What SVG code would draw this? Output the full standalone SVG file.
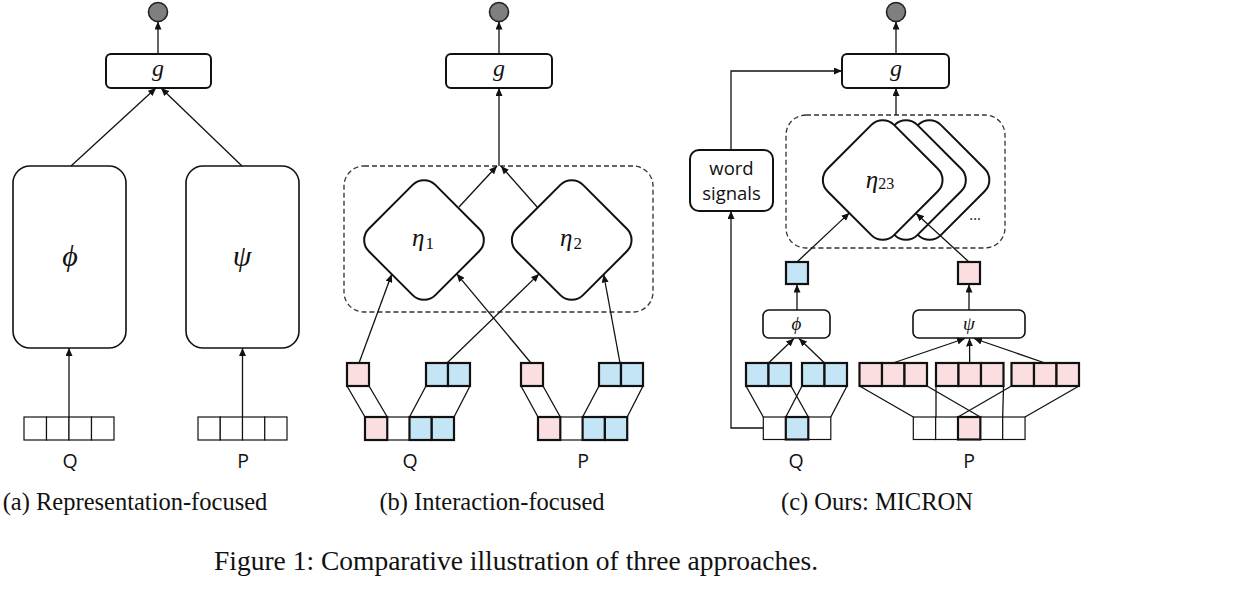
<svg xmlns="http://www.w3.org/2000/svg" width="1237" height="602" viewBox="0 0 1237 602">
<style>
.box{fill:#fff;stroke:#111;stroke-width:2}
.box15{fill:#fff;stroke:#111;stroke-width:1.6}
.cell{fill:#fff;stroke:#111;stroke-width:1.2}
.pink{fill:#fbdfe0;stroke:#111;stroke-width:2.2}
.blue{fill:#c4e5f5;stroke:#111;stroke-width:2.2}
.out{fill:#7f7f7f;stroke:#222;stroke-width:1.6}
.edge{fill:none;stroke:#111;stroke-width:1.3}
.arr{marker-end:url(#ah)}
.dash{fill:none;stroke:#333;stroke-width:1.3;stroke-dasharray:5 3}
.math{font-family:"Liberation Serif","DejaVu Serif",serif;font-style:italic;fill:#111}
.up{font-family:"Liberation Serif","DejaVu Serif",serif;font-style:normal}
.sans{font-family:"Open Sans","Noto Sans",sans-serif;fill:#111}
.lbl{font-size:19.5px}
.cap{font-family:"Liberation Serif","Times New Roman",serif;fill:#111}
</style>
<defs>
<marker id="ah" markerUnits="userSpaceOnUse" markerWidth="8" markerHeight="7" refX="8" refY="3.5" orient="auto">
<path d="M0,0 L8,3.5 L0,7 z" fill="#111"/>
</marker>
</defs>

<!-- ===== Panel (a) ===== -->
<g id="a-out"><circle class="out" cx="158" cy="12" r="9.5"/></g>
<g id="a-g"><rect class="box" x="106" y="54" width="105" height="34" rx="5"/><text class="math" x="158" y="76" font-size="24" text-anchor="middle">g</text></g>
<g id="a-phi"><rect class="box15" x="13" y="166" width="113" height="182" rx="17"/><text class="math" x="70" y="266" font-size="30" text-anchor="middle">ϕ</text></g>
<g id="a-psi"><rect class="box15" x="186" y="166" width="113" height="182" rx="17"/><text class="math" x="242" y="266" font-size="30" text-anchor="middle">ψ</text></g>
<g id="a-Q">
<rect class="cell" x="24" y="417" width="22.5" height="23"/><rect class="cell" x="46.5" y="417" width="22.5" height="23"/><rect class="cell" x="69" y="417" width="22.5" height="23"/><rect class="cell" x="91.5" y="417" width="22.5" height="23"/>
<text class="sans lbl" x="70" y="468" text-anchor="middle">Q</text></g>
<g id="a-P">
<rect class="cell" x="198" y="417" width="22.25" height="23"/><rect class="cell" x="220.25" y="417" width="22.25" height="23"/><rect class="cell" x="242.5" y="417" width="22.25" height="23"/><rect class="cell" x="264.75" y="417" width="22.25" height="23"/>
<text class="sans lbl" x="243" y="468" text-anchor="middle">P</text></g>

<!-- ===== Panel (b) ===== -->
<g id="b-out"><circle class="out" cx="499" cy="12" r="9.5"/></g>
<g id="b-g"><rect class="box" x="446" y="54" width="106" height="34" rx="5"/><text class="math" x="499" y="76" font-size="24" text-anchor="middle">g</text></g>
<g id="b-group"><rect class="dash" x="344" y="166" width="309" height="146" rx="20"/></g>
<g id="b-eta1"><rect class="box" x="-47" y="-47" width="94" height="94" rx="16" transform="translate(424,240) rotate(45)"/><text class="math" x="423" y="246" font-size="25" text-anchor="middle">η<tspan class="up" font-size="17" dx="1" dy="3">1</tspan></text></g>
<g id="b-eta2"><rect class="box" x="-47" y="-47" width="94" height="94" rx="16" transform="translate(571.7,240) rotate(45)"/><text class="math" x="571" y="246" font-size="25" text-anchor="middle">η<tspan class="up" font-size="17" dx="1" dy="3">2</tspan></text></g>
<g id="b-q-top"><rect class="pink" x="347" y="363" width="22" height="23"/><rect class="blue" x="426" y="363" width="22" height="23"/><rect class="blue" x="448" y="363" width="22" height="23"/></g>
<g id="b-q-seq">
<rect class="cell" x="387.25" y="417" width="22.25" height="23"/>
<rect class="pink" x="365" y="417" width="22.25" height="23"/><rect class="blue" x="409.5" y="417" width="22.25" height="23"/><rect class="blue" x="431.75" y="417" width="22.25" height="23"/>
<text class="sans lbl" x="410" y="468" text-anchor="middle">Q</text></g>
<g id="b-p-top"><rect class="pink" x="521" y="363" width="22" height="23"/><rect class="blue" x="599" y="363" width="22" height="23"/><rect class="blue" x="621" y="363" width="22" height="23"/></g>
<g id="b-p-seq">
<rect class="cell" x="560.3" y="417" width="22.3" height="23"/>
<rect class="pink" x="538" y="417" width="22.3" height="23"/><rect class="blue" x="582.6" y="417" width="22.3" height="23"/><rect class="blue" x="604.9" y="417" width="22.3" height="23"/>
<text class="sans lbl" x="583" y="468" text-anchor="middle">P</text></g>

<!-- ===== Panel (c) ===== -->
<g id="c-out"><circle class="out" cx="896" cy="12" r="9.5"/></g>
<g id="c-g"><rect class="box" x="842" y="54" width="107" height="34" rx="5"/><text class="math" x="896" y="76" font-size="24" text-anchor="middle">g</text></g>
<g id="c-word"><rect class="box" x="690" y="150" width="83" height="61" rx="9"/>
<text class="sans" x="731.5" y="175" font-size="18.5" text-anchor="middle">word</text>
<text class="sans" x="731.5" y="200" font-size="18.5" text-anchor="middle">signals</text></g>
<g id="c-group"><rect class="dash" x="786" y="115" width="219" height="133" rx="20"/><text class="sans" x="975" y="220" font-size="15" text-anchor="middle">…</text></g>
<g id="c-eta">
<rect class="box" x="-47" y="-47" width="94" height="94" rx="16" transform="translate(929.5,180) rotate(45)"/>
<rect class="box" x="-47" y="-47" width="94" height="94" rx="16" transform="translate(906,180) rotate(45)"/>
<rect class="box" x="-47" y="-47" width="94" height="94" rx="16" transform="translate(882.7,180) rotate(45)"/>
<text class="math" x="880" y="188" font-size="25" text-anchor="middle">η<tspan class="up" font-size="16" dy="1">23</tspan></text></g>
<g id="c-qvec"><rect class="blue" x="786" y="262" width="22" height="22"/></g>
<g id="c-pvec"><rect class="pink" x="958" y="262" width="22" height="22"/></g>
<g id="c-phi"><rect class="box15" x="763" y="310" width="67" height="28" rx="6"/><text class="math" x="796.5" y="330" font-size="19" text-anchor="middle">ϕ</text></g>
<g id="c-psi"><rect class="box15" x="913" y="310" width="112" height="28" rx="6"/><text class="math" x="969" y="330" font-size="19" text-anchor="middle">ψ</text></g>
<g id="c-q-pairs">
<rect class="blue" x="746" y="363" width="22.5" height="23"/><rect class="blue" x="768.5" y="363" width="22.5" height="23"/>
<rect class="blue" x="802" y="363" width="22.5" height="23"/><rect class="blue" x="824.5" y="363" width="22.5" height="23"/></g>
<g id="c-p-triples">
<rect class="pink" x="859.5" y="363" width="22.5" height="23"/><rect class="pink" x="882" y="363" width="22.5" height="23"/><rect class="pink" x="904.5" y="363" width="22.5" height="23"/>
<rect class="pink" x="936" y="363" width="22.5" height="23"/><rect class="pink" x="958.5" y="363" width="22.5" height="23"/><rect class="pink" x="981" y="363" width="22.5" height="23"/>
<rect class="pink" x="1011.5" y="363" width="22.5" height="23"/><rect class="pink" x="1034" y="363" width="22.5" height="23"/><rect class="pink" x="1056.5" y="363" width="22.5" height="23"/></g>
<g id="c-q-seq">
<rect class="cell" x="763.3" y="417" width="22.5" height="22.5"/><rect class="cell" x="808.3" y="417" width="22.5" height="22.5"/>
<rect class="blue" x="785.8" y="417" width="22.5" height="22.5"/>
<text class="sans lbl" x="796" y="468" text-anchor="middle">Q</text></g>
<g id="c-p-seq">
<rect class="cell" x="913.3" y="417" width="22.35" height="22.5"/><rect class="cell" x="935.65" y="417" width="22.35" height="22.5"/><rect class="cell" x="980.35" y="417" width="22.35" height="22.5"/><rect class="cell" x="1002.7" y="417" width="22.35" height="22.5"/>
<rect class="pink" x="958" y="417" width="22.35" height="22.5"/>
<text class="sans lbl" x="969" y="468" text-anchor="middle">P</text></g>

<!-- ===== Connectors ===== -->
<g id="connectors">
<!-- (a) -->
<line class="edge arr" x1="158" y1="54" x2="158" y2="21.5"/>
<line class="edge arr" x1="71" y1="166" x2="156" y2="88"/>
<line class="edge arr" x1="242" y1="166" x2="161" y2="88"/>
<line class="edge arr" x1="69" y1="417" x2="69" y2="348"/>
<line class="edge arr" x1="242.5" y1="417" x2="242.5" y2="348"/>
<!-- (b) -->
<line class="edge arr" x1="499" y1="54" x2="499" y2="21.5"/>
<line class="edge arr" x1="499" y1="166" x2="499" y2="88"/>
<line class="edge arr" x1="459" y1="207" x2="497" y2="166"/>
<line class="edge arr" x1="538" y1="208" x2="501" y2="166"/>
<line class="edge arr" x1="359" y1="363" x2="391.7" y2="274.2"/>
<line class="edge arr" x1="531" y1="363" x2="456.7" y2="273.8"/>
<line class="edge arr" x1="447" y1="363" x2="539.1" y2="273.9"/>
<line class="edge arr" x1="620" y1="363" x2="603.7" y2="274.5"/>
<path class="edge" d="M347,386 L365,417 M369,386 L387.25,417 M426,386 L409.5,417 M470,386 L454,417"/>
<path class="edge" d="M521,386 L538,417 M543,386 L560.3,417 M599,386 L582.6,417 M643,386 L627.2,417"/>
<!-- (c) -->
<line class="edge arr" x1="896" y1="54" x2="896" y2="21.5"/>
<line class="edge arr" x1="896" y1="115" x2="896" y2="88"/>
<polyline class="edge arr" points="731,150 731,71 842,71"/>
<polyline class="edge arr" points="763.3,428 731,428 731,211"/>
<line class="edge arr" x1="797" y1="262" x2="849.4" y2="212.9"/>
<line class="edge arr" x1="969" y1="262" x2="916.1" y2="213.4"/>
<line class="edge arr" x1="797" y1="310" x2="797" y2="284.5"/>
<line class="edge arr" x1="969" y1="310" x2="969" y2="284.5"/>
<line class="edge arr" x1="768.5" y1="363" x2="794" y2="338.5"/>
<line class="edge arr" x1="824.5" y1="363" x2="799" y2="338.5"/>
<line class="edge arr" x1="893" y1="363" x2="965" y2="338.5"/>
<line class="edge arr" x1="969.7" y1="363" x2="969.5" y2="338.5"/>
<line class="edge arr" x1="1045" y1="363" x2="974" y2="338.5"/>
<path class="edge" d="M746,386 L763.3,417 M791,386 L808.3,417 M802,386 L785.8,417 M847,386 L830.8,417"/>
<path class="edge" d="M859.5,386 L913.3,417 M927,386 L980.35,417 M936,386 L936,417 M1003.5,386 L1002.7,417 M1011.5,386 L958,417 M1079,386 L1025,417"/>
</g>

<!-- ===== Captions ===== -->
<g id="captions">
<text class="cap" x="135" y="510" font-size="24.5" text-anchor="middle">(a) Representation-focused</text>
<text class="cap" x="492" y="510" font-size="24.5" text-anchor="middle">(b) Interaction-focused</text>
<text class="cap" x="877" y="510" font-size="24.5" text-anchor="middle">(c) Ours: MICRON</text>
<text class="cap" x="516" y="570" font-size="27.5" text-anchor="middle">Figure 1: Comparative illustration of three approaches.</text>
</g>
</svg>
